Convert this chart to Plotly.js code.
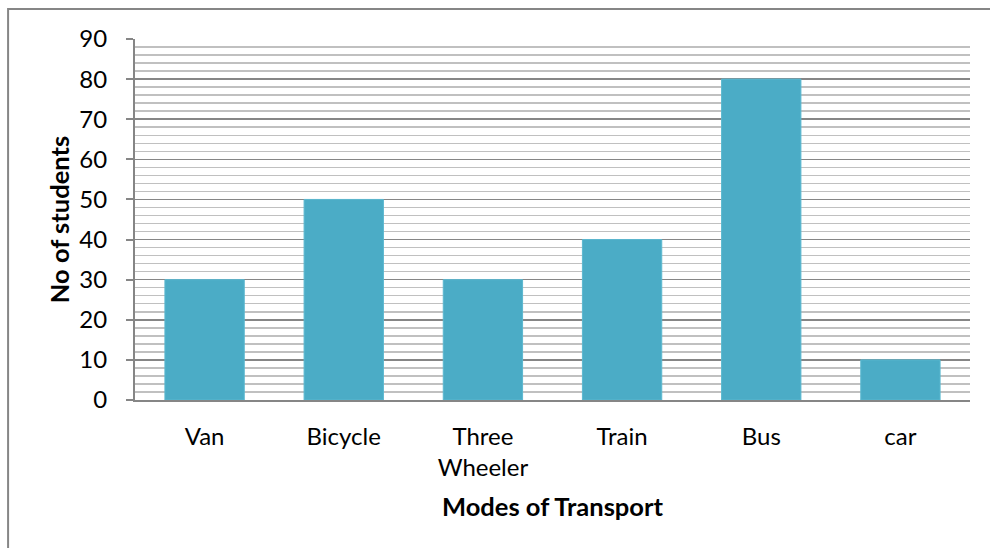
<!DOCTYPE html>
<html>
<head>
<meta charset="utf-8">
<script src="https://cdn.plot.ly/plotly-3.0.1.min.js"></script>
<style>
html,body{margin:0;padding:0;background:#fff;}
#chart{width:990px;height:548px;}
</style>
</head>
<body>
<div id="chart"></div>
<script>
const categories = ["Van", "Bicycle", "Three<br>Wheeler", "Train", "Bus", "car"];
const students = [30, 50, 30, 40, 80, 10];
const yTicks = [0, 10, 20, 30, 40, 50, 60, 70, 80, 90];

const FONT = "Lato, 'Noto Sans', sans-serif";
const FS = 24;
const TFS = 25.5;

const trace = {
  type: "bar",
  x: categories,
  y: students,
  marker: {color: "#4BACC6", line: {color: "#5bb8d0", width: 1}},
  hoverinfo: "x+y"
};

const layout = {
  width: 990,
  height: 548,
  margin: {l: 135, r: 20, t: 39, b: 148},
  paper_bgcolor: "#ffffff",
  plot_bgcolor: "#ffffff",
  showlegend: false,
  bargap: 0.43,
  font: {family: FONT, size: FS, color: "#000"},
  xaxis: {
    type: "category",
    showgrid: false,
    showline: true,
    linecolor: "#868686",
    linewidth: 2,
    ticks: "",
    ticklabelstandoff: 14,
    tickfont: {family: FONT, size: FS, color: "#000"},
    title: {text: "<b>Modes of Transport</b>", font: {family: FONT, size: TFS, color: "#000"}, standoff: 18},
    automargin: false
  },
  yaxis: {
    range: [0, 90],
    tickvals: yTicks,
    ticktext: yTicks.map(String),
    showline: true,
    linecolor: "#868686",
    linewidth: 2,
    ticks: "outside",
    ticklen: 7,
    tickwidth: 2,
    tickcolor: "#868686",
    ticklabelstandoff: 14,
    showgrid: true,
    gridcolor: "#868686",
    gridwidth: 1.5,
    zeroline: false,
    minor: {dtick: 2, showgrid: true, gridcolor: "#c0c0c0", gridwidth: 1.5, ticks: ""},
    tickfont: {family: FONT, size: FS, color: "#000"},
    title: {text: "<b>No of students</b>", font: {family: FONT, size: TFS, color: "#000"}, standoff: 2},
    automargin: false
  },
  shapes: [{
    type: "rect", xref: "paper", yref: "paper",
    x0: -0.152, x1: 1.05, y0: -0.5, y1: 1.0833,
    line: {color: "#868686", width: 2}, fillcolor: "rgba(0,0,0,0)", layer: "below"
  }]
};

Plotly.newPlot("chart", [trace], layout, {displayModeBar: false, staticPlot: true});
</script>
</body>
</html>
